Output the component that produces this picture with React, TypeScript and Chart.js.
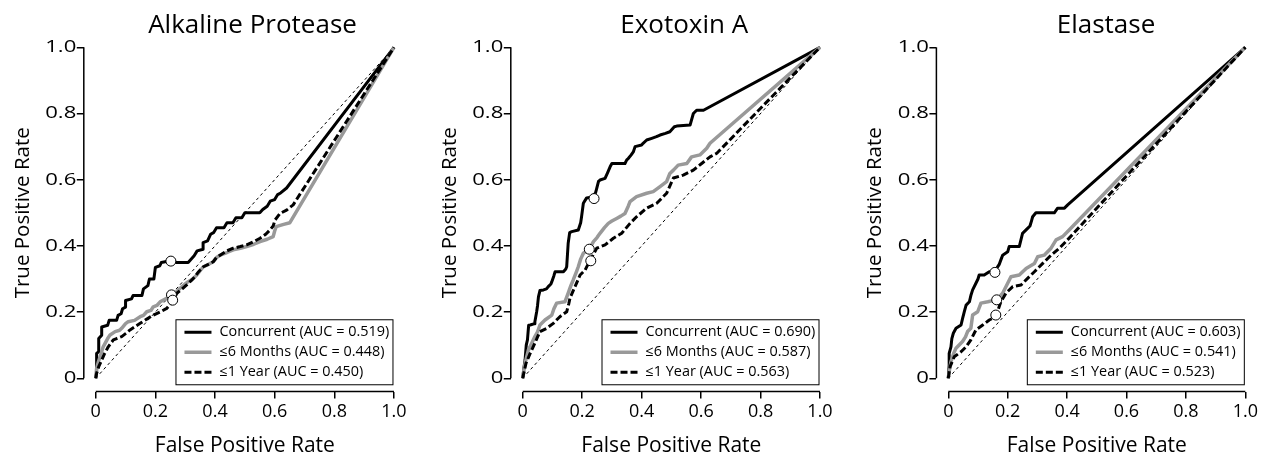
import React, { useEffect, useRef } from "react";
import { Chart, registerables } from "chart.js";

Chart.register(...registerables);

const FONT = '"Open Sans", "Noto Sans", sans-serif';

// ---------- labels ----------
const panelTitles = ["Alkaline Protease", "Exotoxin A", "Elastase"];
const seriesNames = ["Concurrent", "≤6 Months", "≤1 Year"];
const xAxisTitle = "False Positive Rate";
const yAxisTitle = "True Positive Rate";
const tickValues = [0, 0.2, 0.4, 0.6, 0.8, 1.0];
const tickLabels = ["0", "0.2", "0.4", "0.6", "0.8", "1.0"];

// ---------- AUC values (Concurrent, ≤6 Months, ≤1 Year) ----------
const apAuc = [0.519, 0.448, 0.45];
const etaAuc = [0.69, 0.587, 0.563];
const elAuc = [0.603, 0.541, 0.523];

// ---------- ROC curves: [false positive rate, true positive rate] ----------
const apConcurrent = [
  [0, 0], [0.003, 0.02], [0.003, 0.075], [0.01, 0.08], [0.01, 0.12], [0.02, 0.13], [0.02, 0.155],
  [0.04, 0.16], [0.045, 0.175], [0.07, 0.175], [0.075, 0.19], [0.085, 0.195], [0.09, 0.21],
  [0.1, 0.215], [0.1, 0.235], [0.12, 0.24], [0.125, 0.25], [0.155, 0.25], [0.16, 0.27],
  [0.175, 0.28], [0.18, 0.3], [0.195, 0.3], [0.2, 0.335], [0.215, 0.34], [0.22, 0.35],
  [0.25, 0.355], [0.26, 0.355], [0.27, 0.35], [0.31, 0.35], [0.33, 0.37], [0.34, 0.385],
  [0.36, 0.39], [0.36, 0.41], [0.375, 0.415], [0.385, 0.435], [0.395, 0.44], [0.405, 0.455],
  [0.43, 0.455], [0.44, 0.47], [0.46, 0.47], [0.47, 0.485], [0.49, 0.485], [0.5, 0.5],
  [0.55, 0.5], [0.56, 0.51], [0.575, 0.52], [0.585, 0.535], [0.6, 0.54], [0.61, 0.555],
  [0.62, 0.56], [0.64, 0.575], [1, 1],
];
const apSixMonths = [
  [0, 0], [0.003, 0.03], [0.009, 0.05], [0.02, 0.08], [0.025, 0.095], [0.04, 0.12], [0.048, 0.131],
  [0.065, 0.141], [0.08, 0.145], [0.087, 0.151], [0.1, 0.165], [0.109, 0.171], [0.13, 0.175],
  [0.149, 0.186], [0.16, 0.19], [0.171, 0.201], [0.185, 0.205], [0.193, 0.216], [0.205, 0.22],
  [0.216, 0.231], [0.238, 0.242], [0.254, 0.25], [0.26, 0.252], [0.275, 0.265], [0.283, 0.272],
  [0.3, 0.285], [0.31, 0.292], [0.325, 0.3], [0.339, 0.312], [0.35, 0.325], [0.361, 0.337],
  [0.38, 0.345], [0.394, 0.352], [0.405, 0.365], [0.417, 0.372], [0.44, 0.38], [0.461, 0.388],
  [0.485, 0.393], [0.506, 0.398], [0.53, 0.405], [0.551, 0.413], [0.575, 0.42], [0.595, 0.428],
  [0.6, 0.445], [0.605, 0.458], [0.63, 0.465], [0.651, 0.47], [1, 1],
];
const apOneYear = [
  [0, 0], [0.003, 0.015], [0.01, 0.035], [0.02, 0.055], [0.03, 0.075], [0.042, 0.095], [0.05, 0.105],
  [0.059, 0.116], [0.07, 0.12], [0.087, 0.126], [0.1, 0.135], [0.115, 0.146], [0.13, 0.155],
  [0.149, 0.166], [0.17, 0.178], [0.193, 0.191], [0.215, 0.2], [0.238, 0.211], [0.258, 0.232],
  [0.272, 0.257], [0.29, 0.27], [0.305, 0.282], [0.32, 0.295], [0.333, 0.307], [0.345, 0.322],
  [0.361, 0.337], [0.38, 0.345], [0.394, 0.352], [0.405, 0.365], [0.417, 0.372], [0.44, 0.385],
  [0.461, 0.393], [0.485, 0.398], [0.506, 0.403], [0.53, 0.413], [0.551, 0.423], [0.57, 0.435],
  [0.584, 0.448], [0.595, 0.46], [0.601, 0.478], [0.618, 0.498], [0.64, 0.508], [0.662, 0.524],
  [1, 1],
];

const etaConcurrent = [
  [0, 0], [0.004, 0.03], [0.008, 0.055], [0.012, 0.1], [0.016, 0.116], [0.02, 0.16], [0.025, 0.161],
  [0.04, 0.165], [0.041, 0.171], [0.047, 0.201], [0.05, 0.22], [0.053, 0.246], [0.058, 0.265],
  [0.07, 0.267], [0.08, 0.27], [0.086, 0.277], [0.095, 0.285], [0.098, 0.292], [0.105, 0.31],
  [0.109, 0.322], [0.137, 0.322], [0.145, 0.33], [0.148, 0.337], [0.153, 0.408], [0.158, 0.44],
  [0.165, 0.443], [0.187, 0.448], [0.195, 0.47], [0.198, 0.488], [0.204, 0.529], [0.215, 0.545],
  [0.235, 0.548], [0.245, 0.56], [0.249, 0.574], [0.255, 0.595], [0.26, 0.599], [0.277, 0.604],
  [0.285, 0.62], [0.294, 0.639], [0.3, 0.649], [0.344, 0.649], [0.35, 0.66], [0.355, 0.664],
  [0.365, 0.675], [0.372, 0.684], [0.378, 0.7], [0.4, 0.705], [0.405, 0.71], [0.417, 0.72],
  [0.434, 0.725], [0.45, 0.73], [0.462, 0.735], [0.48, 0.74], [0.495, 0.745], [0.51, 0.76],
  [0.518, 0.762], [0.563, 0.765], [0.574, 0.8], [0.585, 0.81], [0.608, 0.81], [1, 1],
];
const etaSixMonths = [
  [0, 0], [0.004, 0.025], [0.008, 0.045], [0.019, 0.085], [0.03, 0.105], [0.041, 0.126], [0.05, 0.14],
  [0.058, 0.161], [0.075, 0.176], [0.098, 0.191], [0.105, 0.21], [0.114, 0.227], [0.142, 0.231],
  [0.148, 0.245], [0.153, 0.257], [0.162, 0.28], [0.17, 0.297], [0.18, 0.32], [0.187, 0.337],
  [0.195, 0.36], [0.204, 0.378], [0.224, 0.39], [0.238, 0.413], [0.25, 0.425], [0.26, 0.438],
  [0.275, 0.455], [0.288, 0.468], [0.3, 0.475], [0.316, 0.483], [0.33, 0.49], [0.344, 0.498],
  [0.355, 0.52], [0.361, 0.534], [0.383, 0.549], [0.417, 0.559], [0.439, 0.564], [0.462, 0.579],
  [0.484, 0.594], [0.495, 0.619], [0.507, 0.629], [0.523, 0.644], [0.552, 0.649], [0.568, 0.669],
  [0.596, 0.675], [0.619, 0.695], [0.63, 0.71], [1, 1],
];
const etaOneYear = [
  [0, 0], [0.005, 0.02], [0.011, 0.045], [0.025, 0.075], [0.041, 0.106], [0.05, 0.125], [0.058, 0.141],
  [0.081, 0.151], [0.103, 0.166], [0.125, 0.186], [0.148, 0.201], [0.155, 0.225], [0.159, 0.242],
  [0.176, 0.277], [0.193, 0.312], [0.21, 0.327], [0.22, 0.345], [0.229, 0.36], [0.249, 0.393],
  [0.277, 0.403], [0.305, 0.423], [0.333, 0.438], [0.361, 0.468], [0.383, 0.488], [0.417, 0.514],
  [0.451, 0.529], [0.484, 0.559], [0.507, 0.605], [0.54, 0.614], [0.574, 0.629], [0.602, 0.649],
  [0.63, 0.669], [0.653, 0.68], [1, 1],
];

const elConcurrent = [
  [0, 0], [0.003, 0.04], [0.003, 0.075], [0.009, 0.095], [0.012, 0.12], [0.017, 0.136], [0.026, 0.151],
  [0.043, 0.161], [0.048, 0.18], [0.054, 0.201], [0.06, 0.221], [0.071, 0.231], [0.076, 0.25],
  [0.082, 0.267], [0.093, 0.287], [0.1, 0.3], [0.104, 0.312], [0.121, 0.312], [0.138, 0.322],
  [0.157, 0.322], [0.165, 0.335], [0.172, 0.345], [0.178, 0.36], [0.183, 0.372], [0.2, 0.382],
  [0.205, 0.398], [0.239, 0.398], [0.245, 0.42], [0.25, 0.438], [0.267, 0.453], [0.275, 0.46],
  [0.28, 0.475], [0.284, 0.488], [0.295, 0.5], [0.357, 0.5], [0.368, 0.514], [0.391, 0.514],
  [0.402, 0.524], [1, 1],
];
const elSixMonths = [
  [0, 0], [0.004, 0.025], [0.009, 0.05], [0.018, 0.075], [0.026, 0.091], [0.048, 0.111], [0.058, 0.125],
  [0.065, 0.141], [0.076, 0.151], [0.082, 0.191], [0.099, 0.201], [0.11, 0.227], [0.133, 0.231],
  [0.163, 0.237], [0.183, 0.257], [0.2, 0.287], [0.211, 0.307], [0.239, 0.312], [0.262, 0.332],
  [0.29, 0.347], [0.301, 0.367], [0.323, 0.372], [0.346, 0.393], [0.363, 0.418], [0.385, 0.428],
  [0.407, 0.448], [1, 1],
];
const elOneYear = [
  [0, 0], [0.006, 0.035], [0.02, 0.065], [0.043, 0.08], [0.06, 0.095], [0.076, 0.116], [0.093, 0.146],
  [0.116, 0.161], [0.138, 0.176], [0.16, 0.186], [0.165, 0.2], [0.177, 0.231], [0.194, 0.257],
  [0.217, 0.277], [0.245, 0.282], [0.267, 0.302], [0.29, 0.322], [0.318, 0.347], [0.346, 0.372],
  [0.374, 0.393], [0.396, 0.413], [1, 1],
];

// ---------- highlighted operating points (open circles) ----------
const apMarkers = [[0.252, 0.354], [0.254, 0.252], [0.258, 0.236]];
const etaMarkers = [[0.24, 0.543], [0.224, 0.39], [0.229, 0.355]];
const elMarkers = [[0.157, 0.32], [0.163, 0.237], [0.16, 0.191]];

const diagonal = [[0, 0], [1, 1]];

// ---------- styles ----------
const seriesStyles = [
  { color: "#000000", width: 3, dash: [] as number[] },
  { color: "#999999", width: 3.5, dash: [] as number[] },
  { color: "#000000", width: 3, dash: [7, 3] },
];

// ---------- layout of each panel on the page ----------
const panelLayout = [
  { left: 0, width: 422, areaLeft: 83.8, areaRight: 405.9, titleX: 252.5 },
  { left: 422, width: 422, areaLeft: 88.8, areaRight: 409.9, titleX: 262.2 },
  { left: 844, width: 422, areaLeft: 92.4, areaRight: 413.2, titleX: 262 },
];
const AREA_TOP = 34.1;
const AREA_BOTTOM = 391.5;
const HEIGHT = 456;

const panels = [
  { title: panelTitles[0], curves: [apConcurrent, apSixMonths, apOneYear], markers: apMarkers, auc: apAuc },
  { title: panelTitles[1], curves: [etaConcurrent, etaSixMonths, etaOneYear], markers: etaMarkers, auc: etaAuc },
  { title: panelTitles[2], curves: [elConcurrent, elSixMonths, elOneYear], markers: elMarkers, auc: elAuc },
];

const toXY = (arr: number[][]) => arr.map(([x, y]) => ({ x, y }));

function stretchedText(ctx: any, text: string, x: number, y: number, sx: number) {
  ctx.save();
  ctx.translate(x, y);
  ctx.scale(sx, 1);
  ctx.fillText(text, 0, 0);
  ctx.restore();
}

const decorPlugin = {
  id: "decor",
  afterDraw(chart: any, _args: any, o: any) {
    const { ctx, chartArea: a, scales } = chart;
    const xs = scales.x;
    const ys = scales.y;
    ctx.save();
    // axis lines spanning 0..1 only
    ctx.strokeStyle = "#000";
    ctx.lineWidth = 1.5;
    ctx.setLineDash([]);
    ctx.beginPath();
    ctx.moveTo(a.left, ys.getPixelForValue(0));
    ctx.lineTo(a.left, ys.getPixelForValue(1));
    ctx.moveTo(xs.getPixelForValue(0), a.bottom);
    ctx.lineTo(xs.getPixelForValue(1), a.bottom);
    ctx.stroke();

    ctx.fillStyle = "#000";

    // y tick labels (positioned by the y scale)
    ctx.font = `17px ${FONT}`;
    ctx.textAlign = "right";
    ctx.textBaseline = "middle";
    for (let i = 0; i < tickValues.length; i++) {
      stretchedText(ctx, tickLabels[i], a.left - 7.5, ys.getPixelForValue(tickValues[i]), 1.3);
    }

    ctx.textAlign = "center";
    ctx.textBaseline = "alphabetic";
    ctx.font = `26px ${FONT}`;
    ctx.fillText(o.title, o.titleX, 33);

    ctx.font = `21px ${FONT}`;
    ctx.fillText(xAxisTitle, (a.left + a.right) / 2, a.bottom + 60);

    ctx.save();
    ctx.translate(a.left - 55, (a.top + a.bottom) / 2);
    ctx.rotate(-Math.PI / 2);
    ctx.font = `20.5px ${FONT}`;
    ctx.fillText(yAxisTitle, 0, 0);
    ctx.restore();

    // legend
    const right = xs.getPixelForValue(1) - 1.5;
    const bottom = ys.getPixelForValue(0) + 6;
    const w = 217;
    const h = 65;
    const left = right - w;
    const top = bottom - h;
    ctx.fillStyle = "#fff";
    ctx.fillRect(left, top, w, h);
    ctx.strokeStyle = "#000";
    ctx.lineWidth = 1;
    ctx.strokeRect(left + 0.5, top + 0.5, w, h);
    ctx.font = `14px ${FONT}`;
    ctx.textAlign = "left";
    ctx.textBaseline = "middle";
    for (let i = 0; i < seriesNames.length; i++) {
      const st = seriesStyles[i];
      const cy = top + 13 + i * 20;
      ctx.strokeStyle = st.color;
      ctx.lineWidth = st.width;
      ctx.setLineDash(st.dash);
      ctx.beginPath();
      ctx.moveTo(left + 9, cy);
      ctx.lineTo(left + 36, cy);
      ctx.stroke();
      ctx.setLineDash([]);
      ctx.fillStyle = "#000";
      stretchedText(ctx, `${seriesNames[i]} (AUC = ${o.auc[i].toFixed(3)})`, left + 44, cy, 1.03);
    }
    ctx.restore();
  },
};

function Panel({ index }: { index: number }) {
  const ref = useRef<HTMLCanvasElement>(null);
  const p = panels[index];
  const L = panelLayout[index];
  useEffect(() => {
    if (!ref.current) return;
    const datasets: any[] = [];
    // open-circle markers on top
    datasets.push({
      type: "scatter",
      data: toXY(p.markers),
      pointRadius: 5,
      pointBackgroundColor: "#ffffff",
      pointBorderColor: "#000000",
      pointBorderWidth: 1,
      showLine: false,
      order: 0,
    });
    for (let i = seriesNames.length - 1; i >= 0; i--) {
      const st = seriesStyles[i];
      datasets.push({
        type: "line",
        label: seriesNames[i],
        data: toXY(p.curves[i]),
        borderColor: st.color,
        borderWidth: st.width,
        borderDash: st.dash,
        borderJoinStyle: "round",
        pointRadius: 0,
        fill: false,
        tension: 0,
        order: 1 + (seriesNames.length - 1 - i),
      });
    }
    datasets.push({
      type: "line",
      data: toXY(diagonal),
      borderColor: "#000000",
      borderWidth: 1,
      borderDash: [3, 3],
      pointRadius: 0,
      fill: false,
      order: 10,
    });

    const tickFmt = (v: any) => {
      const k = tickValues.findIndex((t) => Math.abs(t - Number(v)) < 1e-6);
      return k >= 0 ? tickLabels[k] : "";
    };
    const setTicks = (s: any) => {
      s.ticks = tickValues.map((v) => ({ value: v }));
    };

    const chart = new Chart(ref.current, {
      type: "line",
      data: { datasets },
      plugins: [decorPlugin as any],
      options: {
        responsive: false,
        animation: false,
        events: [],
        layout: {
          padding: { left: 0, right: L.width - L.areaRight, top: AREA_TOP, bottom: 0 },
        },
        plugins: {
          legend: { display: false },
          tooltip: { enabled: false },
          title: { display: false },
          decor: { title: p.title, titleX: L.titleX, auc: p.auc },
        } as any,
        scales: {
          x: {
            type: "linear",
            min: -0.04,
            max: 1.04,
            afterBuildTicks: setTicks,
            afterFit: (s: any) => {
              s.height = HEIGHT - AREA_BOTTOM;
            },
            border: { display: false },
            grid: {
              display: true,
              drawOnChartArea: false,
              drawTicks: true,
              tickLength: 7,
              color: "#000",
              lineWidth: 1.5,
            },
            ticks: {
              callback: tickFmt,
              color: "#000",
              padding: 3,
              maxRotation: 0,
              autoSkip: false,
              font: { family: FONT, size: 18 },
            },
          },
          y: {
            type: "linear",
            min: -0.04,
            max: 1.04,
            afterBuildTicks: setTicks,
            afterFit: (s: any) => {
              s.width = L.areaLeft;
            },
            border: { display: false },
            grid: {
              display: true,
              drawOnChartArea: false,
              drawTicks: true,
              tickLength: 7,
              color: "#000",
              lineWidth: 1.5,
            },
            ticks: {
              display: false,
              callback: tickFmt,
            },
          },
        },
      },
    });
    return () => chart.destroy();
  }, [index]);
  return (
    <canvas
      ref={ref}
      width={L.width}
      height={HEIGHT}
      style={{ position: "absolute", left: L.left, top: 0, width: L.width, height: HEIGHT }}
    />
  );
}

export default function App() {
  return (
    <div style={{ position: "fixed", left: 0, top: 0, width: 1266, height: HEIGHT, background: "#fff" }}>
      {panels.map((_, i) => (
        <Panel key={i} index={i} />
      ))}
    </div>
  );
}
